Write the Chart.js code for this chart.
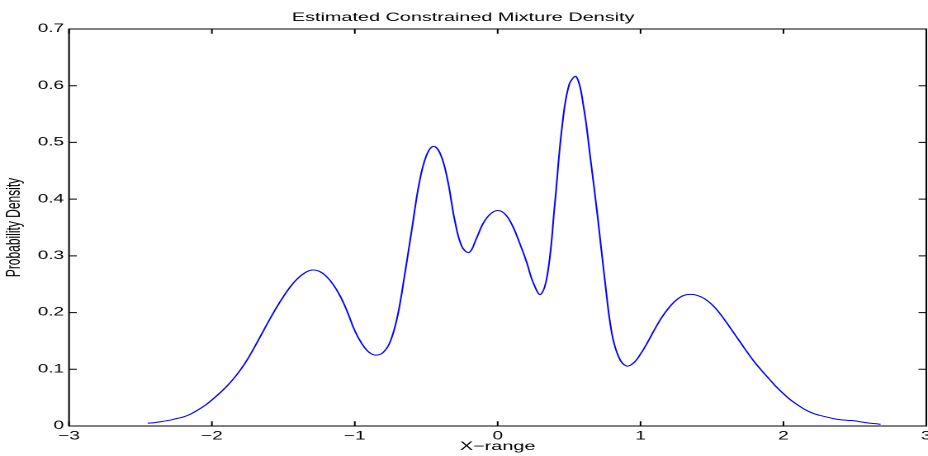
<!DOCTYPE html>
<html>
<head>
<meta charset="utf-8">
<title>Estimated Constrained Mixture Density</title>
<script src="https://cdn.jsdelivr.net/npm/chart.js@4.4.1/dist/chart.umd.min.js"></script>
<style>
    html, body { margin: 0; padding: 0; background: #fff; overflow: hidden; }
    /* the figure is a horizontally stretched MATLAB plot: draw it narrow and stretch it */
    #wrap {
        position: absolute; left: 0; top: 0;
        width: 562px; height: 456px;
        transform: scaleX(1.6512); transform-origin: 0 0;
    }
</style>
</head>
<body>
<div id="wrap"><canvas id="densityChart"></canvas></div>
<script>
// Datos (x cada 0.05)
const xValues = [
    -2.45, -2.40, -2.35, -2.30, -2.25, -2.20, -2.15, -2.10, -2.05, -2.00,
    -1.95, -1.90, -1.85, -1.80, -1.75, -1.70, -1.65, -1.60, -1.55, -1.50,
    -1.45, -1.40, -1.35, -1.30, -1.25, -1.20, -1.15, -1.10, -1.05, -1.00,
    -0.95, -0.90, -0.85, -0.80, -0.75, -0.70, -0.65, -0.60, -0.55, -0.50,
    -0.45, -0.40, -0.35, -0.30, -0.25, -0.20, -0.15, -0.10, -0.05, 0.00,
    0.05, 0.10, 0.15, 0.20, 0.25, 0.30, 0.35, 0.40, 0.45, 0.50,
    0.55, 0.60, 0.65, 0.70, 0.75, 0.80, 0.85, 0.90, 0.95, 1.00,
    1.05, 1.10, 1.15, 1.20, 1.25, 1.30, 1.35, 1.40, 1.45, 1.50,
    1.55, 1.60, 1.65, 1.70, 1.75, 1.80, 1.85, 1.90, 1.95, 2.00,
    2.05, 2.10, 2.15, 2.20, 2.25, 2.30, 2.35, 2.40, 2.45, 2.50,
    2.55, 2.60, 2.65, 2.68];
const densityValues = [
    0.005, 0.006, 0.008, 0.010, 0.013, 0.016, 0.021, 0.028, 0.036, 0.046,
    0.057, 0.069, 0.083, 0.099, 0.118, 0.140, 0.163, 0.186, 0.208, 0.228,
    0.246, 0.260, 0.270, 0.275, 0.273, 0.264, 0.249, 0.228, 0.200, 0.168,
    0.145, 0.130, 0.125, 0.130, 0.150, 0.195, 0.268, 0.348, 0.427, 0.476,
    0.493, 0.479, 0.433, 0.362, 0.316, 0.306, 0.330, 0.358, 0.374, 0.380,
    0.374, 0.355, 0.325, 0.291, 0.252, 0.232, 0.270, 0.392, 0.526, 0.602,
    0.616, 0.565, 0.470, 0.368, 0.257, 0.162, 0.120, 0.106, 0.111, 0.127,
    0.148, 0.171, 0.192, 0.209, 0.222, 0.230, 0.232, 0.230, 0.224, 0.214,
    0.200, 0.183, 0.165, 0.147, 0.129, 0.112, 0.097, 0.083, 0.069, 0.057,
    0.046, 0.037, 0.029, 0.023, 0.019, 0.016, 0.013, 0.011, 0.010, 0.009,
    0.007, 0.005, 0.004, 0.003];

const xTicks = [-3, -2, -1, 0, 1, 2, 3];
const xTickLabels = ['\u22123', '\u22122', '\u22121', '0', '1', '2', '3'];
const yTicks = [0, 0.1, 0.2, 0.3, 0.4, 0.5, 0.6, 0.7];
const yTickLabels = ['0', '0.1', '0.2', '0.3', '0.4', '0.5', '0.6', '0.7'];

const FONT = "'Liberation Sans', Arial, Helvetica, sans-serif";
const TICK_LEN = 4.7;

// Caja estilo MATLAB con marcas hacia dentro en los cuatro lados
const boxPlugin = {
    id: 'matlabBox',
    afterDatasetsDraw(chart) {
        const { ctx, chartArea: a, scales: { x, y } } = chart;
        ctx.save();
        ctx.strokeStyle = '#000';
        ctx.lineWidth = 1;
        ctx.strokeRect(a.left, a.top, a.right - a.left, a.bottom - a.top);
        ctx.beginPath();
        x.ticks.forEach(t => {
            const px = x.getPixelForValue(t.value);
            ctx.moveTo(px, a.bottom); ctx.lineTo(px, a.bottom - TICK_LEN);
            ctx.moveTo(px, a.top); ctx.lineTo(px, a.top + TICK_LEN);
        });
        y.ticks.forEach(t => {
            const py = y.getPixelForValue(t.value);
            ctx.moveTo(a.left, py); ctx.lineTo(a.left + TICK_LEN, py);
            ctx.moveTo(a.right, py); ctx.lineTo(a.right - TICK_LEN, py);
        });
        ctx.stroke();
        ctx.restore();
    }
};

const ctx = document.getElementById('densityChart').getContext('2d');
window.densityChart = new Chart(ctx, {
    type: 'line',
    data: {
        datasets: [{
            label: 'Density',
            data: xValues.map((v, i) => ({ x: v, y: densityValues[i] })),
            borderColor: '#0000ff',
            borderWidth: 1,
            pointRadius: 0,
            fill: false,
            tension: 0.4
        }]
    },
    options: {
        responsive: true,
        maintainAspectRatio: false,
        animation: false,
        devicePixelRatio: 2,
        layout: { padding: { left: 0, right: 1, top: 0, bottom: 0 } },
        plugins: {
            legend: { display: false },
            tooltip: { enabled: false },
            title: {
                display: true,
                text: 'Estimated Constrained Mixture Density',
                color: '#000',
                font: { family: FONT, size: 12, weight: 'normal' },
                padding: { top: 10.6, bottom: 4 }
            }
        },
        scales: {
            x: {
                type: 'linear',
                min: -3,
                max: 3,
                afterBuildTicks: scale => { scale.ticks = xTicks.map(v => ({ value: v })); },
                afterFit: scale => { scale.height = 30; scale.paddingRight = 0; },
                grid: { display: false, drawTicks: false },
                border: { display: false },
                ticks: {
                    color: '#000',
                    padding: 3.4,
                    maxRotation: 0,
                    autoSkip: false,
                    font: { family: FONT, size: 11.5 },
                    callback: (value, index) => xTickLabels[index]
                },
                title: {
                    display: true,
                    text: 'X\u2212range',
                    color: '#000',
                    font: { family: FONT, size: 12 },
                    padding: { top: 0, bottom: 2 }
                }
            },
            y: {
                min: 0,
                max: 0.7,
                afterBuildTicks: scale => { scale.ticks = yTicks.map(v => ({ value: v })); },
                afterFit: scale => { scale.width = 41.8; },
                grid: { display: false, drawTicks: false },
                border: { display: false },
                ticks: {
                    color: '#000',
                    padding: 3,
                    autoSkip: false,
                    font: { family: FONT, size: 11.5 },
                    callback: (value, index) => yTickLabels[index]
                },
                title: {
                    display: true,
                    text: 'Probability Density',
                    color: '#000',
                    font: { family: FONT, size: 12 },
                    padding: { top: 1.5, bottom: 0 }
                }
            }
        }
    },
    plugins: [boxPlugin]
});
</script>
</body>
</html>
